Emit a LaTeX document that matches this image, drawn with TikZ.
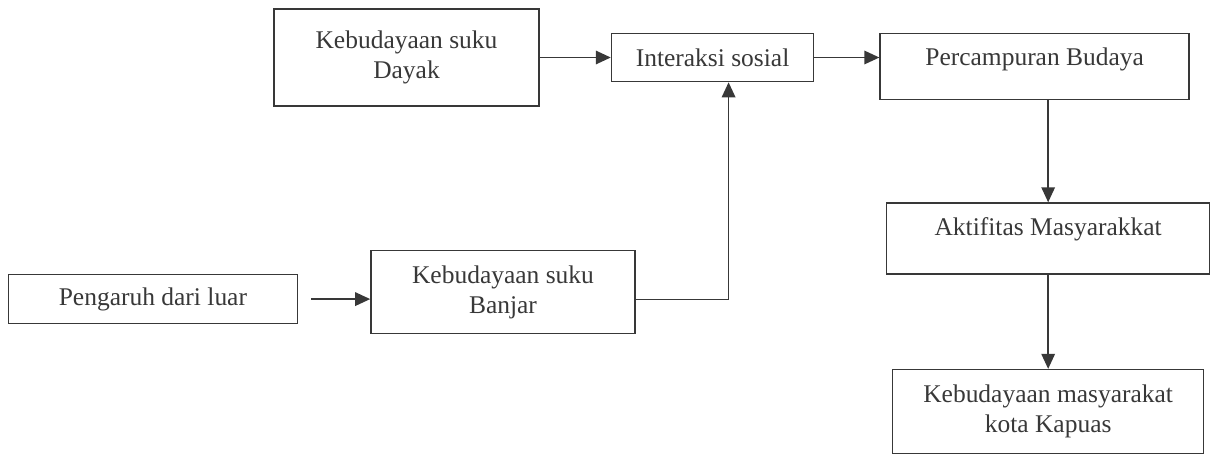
\documentclass[tikz,border=0pt]{standalone}
\usepackage{fontspec}
\setmainfont{Liberation Serif}
\usepackage{xcolor}
\usetikzlibrary{arrows.meta,positioning,calc}
\definecolor{ink}{HTML}{383838}
\tikzset{
  box/.style={draw=ink, line width=0.9pt, text=ink, align=center, inner sep=0pt, font=\fontsize{14.5}{17}\selectfont},
  line/.style={-{Triangle[length=0.3cm, width=0.27cm]}, draw=ink, line width=0.9pt}
}

\begin{document}
\begin{tikzpicture}
  \useasboundingbox (0,0) rectangle (24.24,-9.06);

  \node[box, minimum width=5.3cm, minimum height=1.94cm] (dayak) at (8.13,-1.15) {Kebudayaan suku\\Dayak};
  \node[box, minimum width=4.04cm, minimum height=0.96cm, right=1.42cm of dayak] (interaksi) {Interaksi sosial};
  \node[box, minimum width=6.18cm, text height=0.64cm, text depth=0.68cm, right=1.3cm of interaksi, yshift=-0.18cm] (campur) {Percampuran Budaya};
  \node[box, minimum width=6.46cm, text height=0.64cm, text depth=0.78cm, below=2.04cm of campur, xshift=0.27cm] (aktif) {Aktifitas Masyarakkat};
  \node[box, minimum width=6.22cm, minimum height=1.68cm, below=1.88cm of aktif] (kapuas) {Kebudayaan masyarakat\\kota Kapuas};

  \node[box, minimum width=5.28cm, minimum height=1.66cm, below=2.86cm of dayak, xshift=1.93cm] (banjar) {Kebudayaan suku\\Banjar};
  \node[box, minimum width=5.78cm, minimum height=0.98cm, left=1.44cm of banjar, yshift=-0.14cm] (luar) {Pengaruh dari luar};

  \draw[line] (dayak) -- (interaksi);
  \draw[line] (interaksi.east) -- (interaksi.east -| campur.west);
  \draw[line] (aktif.north |- campur.south) -- (aktif.north);
  \draw[line] (aktif) -- (kapuas);

  % masuk dari luar lewat Banjar
  \draw[line, shorten <=0.26cm] (luar.east) -- (luar.east -| banjar.west);
  \draw[line] ([yshift=-0.15cm]banjar.east) -| ([xshift=0.32cm]interaksi.south);
\end{tikzpicture}
\end{document}
